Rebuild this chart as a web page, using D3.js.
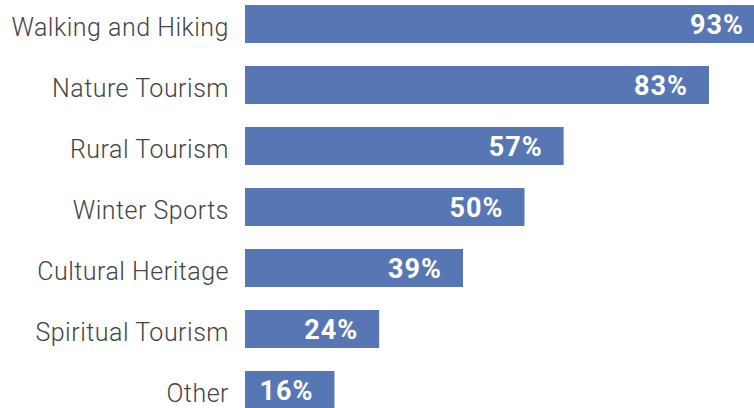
<!DOCTYPE html>
<html>
<head>
<meta charset="utf-8">
<script src="https://cdn.jsdelivr.net/npm/d3@7"></script>
<style>
  html, body { margin: 0; padding: 0; background: #fff; overflow: hidden; }
</style>
</head>
<body>
<section></section>
<script>
const categories = ["Walking and Hiking", "Nature Tourism", "Rural Tourism", "Winter Sports",
    "Cultural Heritage", "Spiritual Tourism", "Other"];
const values = [93, 83, 57, 50, 39, 24, 16];
const valueLabels = ["93%", "83%", "57%", "50%", "39%", "24%", "16%"];

const width = 754;
const height = 408;
const marginLeft = 245;

// escala x: el 93% se sale por la derecha, como en el original
const x = d3.scaleLinear()
    .domain([0, 100])
    .range([marginLeft, marginLeft + 559]);

const y = d3.scaleBand()
    .domain(categories)
    .range([-6.5, 420.5])
    .paddingInner(0.377)
    .paddingOuter(0.1885);

const svg = d3.select("section")
    .append("svg")
    .attr("width", width)
    .attr("height", height)
    .attr("viewBox", [0, 0, width, height])
    .style("display", "block");

const data = categories.map((c, i) => ({ cat: c, value: values[i], label: valueLabels[i] }));

svg.append("g")
    .attr("fill", "#5677b4")
    .selectAll("rect")
    .data(data)
    .join("rect")
    .attr("x", x(0))
    .attr("y", d => y(d.cat))
    .attr("width", d => x(d.value) - x(0))
    .attr("height", y.bandwidth());

// etiquetas de categoría
svg.append("g")
    .attr("font-family", "Roboto, sans-serif")
    .attr("font-weight", 300)
    .attr("font-size", 25)
    .attr("letter-spacing", 0.5)
    .attr("fill", "#444")
    .attr("text-anchor", "end")
    .selectAll("text")
    .data(data)
    .join("text")
    .attr("x", 229)
    .attr("y", d => y(d.cat) + y.bandwidth() / 2)
    .attr("dy", 12)
    .text(d => d.cat);

// valores dentro de las barras
svg.append("g")
    .attr("font-family", "Roboto, sans-serif")
    .attr("font-weight", 700)
    .attr("font-size", 27)
    .attr("letter-spacing", 1)
    .attr("fill", "#fff")
    .attr("text-anchor", "end")
    .selectAll("text")
    .data(data)
    .join("text")
    .attr("x", d => x(d.value) - 21)
    .attr("y", d => y(d.cat) + y.bandwidth() / 2)
    .attr("dy", 9.8)
    .text(d => d.label);
</script>
</body>
</html>
